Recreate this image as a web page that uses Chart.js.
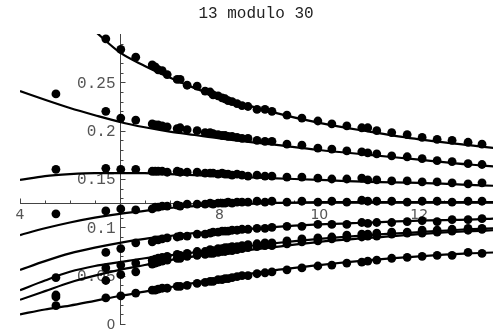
<!DOCTYPE html>
<html>
<head>
<meta charset="utf-8">
<script src="https://cdn.jsdelivr.net/npm/chart.js@4.4.1/dist/chart.umd.min.js"></script>
<style>
  html, body { margin: 0; padding: 0; background: #fff; }
  #wrap { position: relative; width: 501px; height: 336px; }
</style>
</head>
<body>
<div id="wrap"><canvas id="myChart"></canvas></div>
<script>
// sample points (x positions shared by every residue series)
var dotX = [4.72, 5.72, 6.02, 6.32, 6.65, 6.71, 6.77, 6.85, 6.95, 7.15, 7.21, 7.35, 7.55, 7.71, 7.81, 7.87, 7.97, 8.05, 8.11, 8.17, 8.25,
    8.35, 8.45, 8.57, 8.75, 8.91, 9.05, 9.35, 9.65, 9.97, 10.25, 10.55, 10.85, 10.97, 11.15, 11.45, 11.76, 12.06, 12.36, 12.66, 12.98, 13.26];

var dots1 = [null, 0.295, 0.284, 0.276, 0.268, 0.266, 0.263, 0.262, 0.258, 0.253, 0.253, 0.247, 0.246, 0.241, 0.240, 0.237, 0.236, 0.234, 0.233, 0.231, 0.230,
    0.228, 0.226, 0.225, 0.222, 0.222, 0.220, 0.216, 0.213, 0.210, 0.207, 0.205, 0.203, 0.203, 0.200, 0.198, 0.196, 0.193, 0.191, 0.190, 0.188, 0.186];
var dots2 = [0.238, 0.220, 0.213, 0.211, 0.207, 0.206, 0.206, 0.205, 0.204, 0.202, 0.203, 0.201, 0.200, 0.198, 0.198, 0.197, 0.196, 0.195, 0.195, 0.194, 0.194,
    0.193, 0.192, 0.192, 0.190, 0.189, 0.189, 0.186, 0.185, 0.182, 0.181, 0.179, 0.178, 0.177, 0.176, 0.174, 0.173, 0.171, 0.169, 0.168, 0.166, 0.165];
var dots3 = [0.160, 0.161, 0.160, 0.160, 0.158, 0.158, 0.158, 0.158, 0.157, 0.158, 0.157, 0.157, 0.157, 0.156, 0.156, 0.156, 0.155, 0.156, 0.155, 0.155, 0.154,
    0.155, 0.154, 0.153, 0.154, 0.153, 0.153, 0.152, 0.152, 0.151, 0.150, 0.150, 0.151, 0.149, 0.149, 0.148, 0.148, 0.147, 0.147, 0.146, 0.145, 0.146];
var dots4 = [0.114, 0.117, 0.119, 0.118, 0.119, 0.121, 0.121, 0.122, 0.122, 0.123, 0.122, 0.124, 0.124, 0.124, 0.125, 0.124, 0.125, 0.125, 0.125, 0.126, 0.125,
    0.126, 0.126, 0.126, 0.127, 0.126, 0.127, 0.126, 0.127, 0.126, 0.127, 0.126, 0.128, 0.127, 0.127, 0.127, 0.126, 0.127, 0.127, 0.126, 0.127, 0.127];
var dots5 = [0.048, 0.074, 0.078, 0.084, 0.085, 0.087, 0.087, 0.088, 0.089, 0.090, 0.091, 0.091, 0.093, 0.093, 0.094, 0.095, 0.095, 0.096, 0.096, 0.096, 0.097,
    0.097, 0.098, 0.098, 0.099, 0.099, 0.100, 0.101, 0.101, 0.103, 0.103, 0.103, 0.105, 0.104, 0.105, 0.105, 0.106, 0.107, 0.106, 0.108, 0.108, 0.109];
var dots6 = [0.030, 0.058, 0.061, 0.063, 0.066, 0.067, 0.068, 0.069, 0.070, 0.072, 0.071, 0.073, 0.075, 0.075, 0.077, 0.076, 0.078, 0.078, 0.079, 0.079, 0.080,
    0.080, 0.081, 0.082, 0.083, 0.084, 0.084, 0.086, 0.088, 0.089, 0.090, 0.092, 0.093, 0.093, 0.094, 0.095, 0.095, 0.097, 0.097, 0.098, 0.099, 0.099];
var dots7 = [0.028, 0.045, 0.051, 0.054, 0.062, 0.063, 0.064, 0.065, 0.066, 0.068, 0.068, 0.070, 0.071, 0.072, 0.073, 0.073, 0.074, 0.075, 0.075, 0.076, 0.076,
    0.077, 0.078, 0.079, 0.080, 0.081, 0.081, 0.083, 0.085, 0.086, 0.088, 0.089, 0.090, 0.091, 0.091, 0.093, 0.094, 0.094, 0.095, 0.096, 0.097, 0.098];
var dots8 = [0.019, 0.027, 0.029, 0.032, 0.035, 0.035, 0.036, 0.037, 0.037, 0.039, 0.039, 0.040, 0.042, 0.043, 0.044, 0.044, 0.046, 0.046, 0.047, 0.047, 0.048,
    0.049, 0.050, 0.050, 0.052, 0.053, 0.054, 0.056, 0.058, 0.060, 0.061, 0.063, 0.064, 0.065, 0.066, 0.068, 0.069, 0.070, 0.071, 0.071, 0.074, 0.073];

// fitted curves, read at these x values
var curveX = [4, 4.5, 5, 5.5, 6, 6.5, 7, 7.5, 8, 9, 10, 11, 12, 13, 13.5];
var fit1 = [null, null, null, 0.303, 0.281, 0.267, 0.255, 0.244, 0.235, 0.220, 0.208, 0.199, 0.191, 0.185, 0.182];
var fit2 = [0.241, 0.232, 0.2235, 0.216, 0.209, 0.2035, 0.199, 0.1955, 0.192, 0.186, 0.180, 0.175, 0.170, 0.165, 0.163];
var fit3 = [0.149, 0.153, 0.155, 0.156, 0.156, 0.156, 0.155, 0.154, 0.153, 0.151, 0.149, 0.147, 0.146, 0.144, 0.143];
var fit4 = [0.092, 0.099, 0.105, 0.110, 0.114, 0.117, 0.120, 0.122, 0.123, 0.125, 0.126, 0.126, 0.126, 0.126, 0.126];
var fit5 = [0.056, 0.065, 0.073, 0.079, 0.084, 0.088, 0.091, 0.094, 0.096, 0.100, 0.103, 0.105, 0.107, 0.108, 0.109];
var fit6 = [0.035, 0.045, 0.054, 0.060, 0.064, 0.068, 0.071, 0.074, 0.077, 0.083, 0.088, 0.092, 0.095, 0.098, 0.099];
var fit7 = [0.025, 0.034, 0.043, 0.050, 0.056, 0.061, 0.066, 0.070, 0.073, 0.079, 0.085, 0.089, 0.093, 0.096, 0.097];
var fit8 = [0.010, 0.015, 0.019, 0.024, 0.029, 0.0335, 0.038, 0.0425, 0.047, 0.055, 0.061, 0.066, 0.070, 0.073, 0.074];

var titleText = '13 modulo 30';
var xMin = 4, xMax = 13.48, yMin = 0, yMax = 0.30;
var axisCrossX = 6, axisCrossY = 0.125;
var xTickLabels = [4, 8, 10, 12];
var yTickValues = [0, 0.05, 0.1, 0.15, 0.2, 0.25];
var yTickLabels = ['0', '0.05', '0.1', '0.15', '0.2', '0.25'];

function toPoints(xArr, yArr) {
    return xArr.map(function (x, i) {
        return { x: x, y: yArr[i] };
    });
}

function dotSet(yArr) {
    return {
        type: 'scatter',
        data: toPoints(dotX, yArr),
        pointRadius: 4.4,
        pointBackgroundColor: '#000',
        pointBorderWidth: 0,
        showLine: false
    };
}

function curveSet(yArr) {
    return {
        type: 'line',
        data: toPoints(curveX, yArr),
        borderColor: '#000',
        borderWidth: 2.2,
        pointRadius: 0,
        cubicInterpolationMode: 'monotone',
        fill: false
    };
}

// mathematica style axes crossing inside the plot
const mmaAxes = {
    id: 'mmaAxes',
    beforeDatasetsDraw(chart) {
        const ctx = chart.ctx;
        const sx = chart.scales.x, sy = chart.scales.y;
        const ox = Math.round(sx.getPixelForValue(axisCrossX)) + 0.5;
        const oy = Math.round(sy.getPixelForValue(axisCrossY)) + 0.5;
        ctx.save();
        ctx.strokeStyle = '#444';
        ctx.lineWidth = 1;
        ctx.beginPath();
        ctx.moveTo(sx.left, oy);
        ctx.lineTo(sx.right, oy);
        ctx.moveTo(ox, sy.bottom + 1);
        ctx.lineTo(ox, sy.top);
        // x ticks, every 0.5, pointing up
        for (var k = 0; k <= 19; k++) {
            var v = 4 + k * 0.5;
            if (v > xMax) break;
            var px = Math.round(sx.getPixelForValue(v)) + 0.5;
            var len = (v % 2 === 0) ? 5 : 3;
            ctx.moveTo(px, oy);
            ctx.lineTo(px, oy - len);
        }
        // y ticks, every 0.01, pointing right
        for (var j = 0; j <= 29; j++) {
            var yv = j * 0.01;
            var py = Math.round(sy.getPixelForValue(yv)) + 0.5;
            var ylen = (j % 5 === 0) ? 5 : 3;
            ctx.moveTo(ox, py);
            ctx.lineTo(ox + ylen, py);
        }
        ctx.stroke();

        // x labels
        ctx.fillStyle = '#555';
        ctx.font = '14px "DejaVu Sans"';
        ctx.textAlign = 'center';
        ctx.textBaseline = 'middle';
        xTickLabels.forEach(function (v) {
            ctx.fillText(String(v), sx.getPixelForValue(v), oy + 12);
        });
        // y labels
        ctx.textAlign = 'right';
        yTickValues.forEach(function (v, i) {
            ctx.font = i === 0 ? '14px "DejaVu Sans"' : '16px "Liberation Mono"';
            ctx.fillText(yTickLabels[i], ox - 5, sy.getPixelForValue(v) + 1);
        });

        // title
        ctx.fillStyle = '#222';
        ctx.font = '16px "Liberation Mono"';
        ctx.textAlign = 'center';
        ctx.fillText(titleText, 256, 14);
        ctx.restore();
    }
};

const ctx = document.getElementById('myChart');
var datasets = [
    curveSet(fit1), curveSet(fit2), curveSet(fit3), curveSet(fit4),
    curveSet(fit5), curveSet(fit6), curveSet(fit7), curveSet(fit8),
    dotSet(dots1), dotSet(dots2), dotSet(dots3), dotSet(dots4),
    dotSet(dots5), dotSet(dots6), dotSet(dots7), dotSet(dots8)
];

new Chart(ctx, {
    type: 'scatter',
    data: { datasets: datasets },
    options: {
        responsive: true,
        maintainAspectRatio: false,
        animation: false,
        layout: { padding: { left: 20, right: 8, top: 34, bottom: 12 } },
        scales: {
            x: { type: 'linear', min: xMin, max: xMax, display: false },
            y: { type: 'linear', min: yMin, max: yMax, display: false }
        },
        plugins: {
            legend: { display: false },
            tooltip: { enabled: false },
            title: { display: false }
        }
    },
    plugins: [mmaAxes]
});
</script>
</body>
</html>
